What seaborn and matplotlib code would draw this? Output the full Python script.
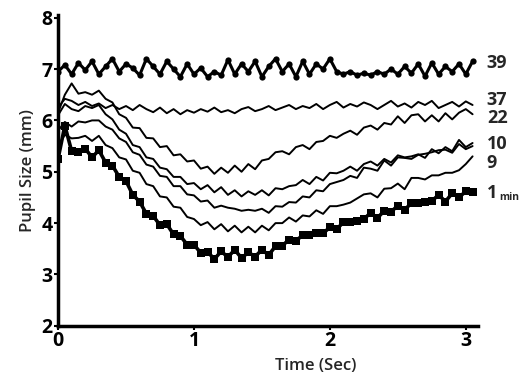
"""
Pupil size traces over time, one line per recording time.
"""

import matplotlib
matplotlib.use("Agg")
import matplotlib.pyplot as plt
import seaborn as sns

time_sec = [
    0.00, 0.05, 0.10, 0.15, 0.20, 0.25, 0.30, 0.35, 0.40, 0.45,
    0.50, 0.55, 0.60, 0.65, 0.70, 0.75, 0.80, 0.85, 0.90, 0.95,
    1.00, 1.05, 1.10, 1.15, 1.20, 1.25, 1.30, 1.35, 1.40, 1.45,
    1.50, 1.55, 1.60, 1.65, 1.70, 1.75, 1.80, 1.85, 1.90, 1.95,
    2.00, 2.05, 2.10, 2.15, 2.20, 2.25, 2.30, 2.35, 2.40, 2.45,
    2.50, 2.55, 2.60, 2.65, 2.70, 2.75, 2.80, 2.85, 2.90, 2.95,
    3.00, 3.05,
]

pupil_39 = [
    6.95, 7.08, 6.90, 7.12, 6.98, 7.15, 6.90, 7.05, 7.20, 6.95,
    7.10, 7.02, 6.88, 7.20, 7.05, 6.90, 7.15, 7.00, 6.85, 7.10,
    6.90, 7.02, 6.85, 6.95, 6.88, 7.18, 6.90, 7.10, 6.95, 7.15,
    6.85, 7.05, 7.20, 6.95, 7.10, 6.85, 7.15, 6.90, 7.10, 7.00,
    7.20, 6.95, 6.90, 6.95, 6.88, 6.92, 6.88, 6.95, 6.90, 7.00,
    6.90, 7.05, 6.92, 7.10, 6.86, 7.12, 6.90, 7.05, 6.95, 7.10,
    6.90, 7.15,
]
pupil_37 = [
    6.25, 6.42, 6.38, 6.30, 6.36, 6.28, 6.33, 6.24, 6.30, 6.22,
    6.28, 6.20, 6.30, 6.22, 6.16, 6.25, 6.14, 6.22, 6.12, 6.20,
    6.15, 6.22, 6.17, 6.25, 6.16, 6.20, 6.14, 6.22, 6.26, 6.18,
    6.22, 6.28, 6.20, 6.25, 6.30, 6.22, 6.28, 6.24, 6.32, 6.22,
    6.30, 6.36, 6.25, 6.32, 6.27, 6.35, 6.30, 6.22, 6.30, 6.38,
    6.27, 6.33, 6.25, 6.36, 6.30, 6.38, 6.24, 6.30, 6.36, 6.27,
    6.37, 6.30,
]
pupil_22 = [
    6.15, 6.50, 6.72, 6.52, 6.55, 6.50, 6.58, 6.42, 6.35, 6.12,
    6.05, 5.86, 5.85, 5.66, 5.65, 5.48, 5.50, 5.32, 5.34, 5.20,
    5.22, 5.06, 5.10, 4.96, 5.08, 4.98, 5.12, 5.00, 5.15, 5.05,
    5.22, 5.25, 5.38, 5.40, 5.34, 5.48, 5.52, 5.44, 5.58, 5.60,
    5.70, 5.66, 5.74, 5.80, 5.72, 5.86, 5.90, 5.82, 5.95, 5.92,
    6.08, 5.95, 6.10, 6.12, 5.98, 6.10, 5.98, 6.14, 6.02, 6.15,
    6.22, 6.12,
]
pupil_10 = [
    6.10, 6.32, 6.22, 6.18, 6.28, 6.24, 6.30, 6.12, 6.02, 5.82,
    5.74, 5.52, 5.48, 5.28, 5.25, 5.08, 5.05, 4.90, 4.90, 4.76,
    4.78, 4.66, 4.74, 4.60, 4.70, 4.55, 4.64, 4.52, 4.62, 4.55,
    4.64, 4.54, 4.68, 4.66, 4.72, 4.74, 4.84, 4.76, 4.90, 4.83,
    4.98, 4.97, 5.02, 5.10, 5.02, 5.15, 5.20, 5.12, 5.25, 5.18,
    5.32, 5.28, 5.30, 5.34, 5.27, 5.44, 5.36, 5.48, 5.40, 5.62,
    5.48, 5.56,
]
pupil_unlabeled = [
    5.80, 5.97, 5.88, 5.98, 5.96, 6.00, 6.00, 5.88, 5.82, 5.65,
    5.58, 5.38, 5.33, 5.14, 5.10, 4.92, 4.90, 4.72, 4.72, 4.56,
    4.54, 4.42, 4.44, 4.30, 4.34, 4.30, 4.28, 4.24, 4.26, 4.24,
    4.28, 4.20, 4.33, 4.32, 4.41, 4.40, 4.52, 4.50, 4.64, 4.62,
    4.76, 4.80, 4.84, 4.92, 4.88, 5.08, 5.06, 5.02, 5.22, 5.12,
    5.28, 5.27, 5.25, 5.33, 5.35, 5.38, 5.42, 5.43, 5.37, 5.54,
    5.44, 5.50,
]
pupil_9 = [
    5.50, 5.72, 5.65, 5.66, 5.70, 5.60, 5.70, 5.52, 5.46, 5.28,
    5.24, 5.02, 4.98, 4.76, 4.72, 4.52, 4.50, 4.32, 4.30, 4.12,
    4.08, 3.96, 4.02, 3.88, 3.98, 3.84, 3.95, 3.82, 3.93, 3.82,
    3.95, 3.86, 4.00, 4.00, 4.11, 4.03, 4.15, 4.13, 4.25, 4.18,
    4.33, 4.33, 4.36, 4.40, 4.48, 4.56, 4.58, 4.50, 4.67, 4.68,
    4.77, 4.66, 4.88, 4.88, 4.85, 4.93, 4.93, 4.98, 4.98, 5.03,
    5.15, 5.30,
]
pupil_1 = [
    5.25, 5.90, 5.40, 5.38, 5.45, 5.28, 5.42, 5.18, 5.12, 4.90,
    4.82, 4.55, 4.42, 4.18, 4.14, 3.96, 3.98, 3.78, 3.75, 3.58,
    3.58, 3.42, 3.44, 3.30, 3.45, 3.34, 3.48, 3.32, 3.43, 3.35,
    3.48, 3.38, 3.55, 3.56, 3.68, 3.66, 3.76, 3.76, 3.80, 3.80,
    3.92, 3.88, 4.02, 4.02, 4.04, 4.08, 4.20, 4.10, 4.24, 4.22,
    4.34, 4.25, 4.40, 4.40, 4.42, 4.43, 4.55, 4.42, 4.58, 4.50,
    4.62, 4.60,
]

end_labels = ["39", "37", "22", "10", "9", "1"]
label_y = [7.11, 6.39, 6.04, 5.55, 5.17, 4.58]

sns.set_style("ticks")
plt.rcParams["font.family"] = ["Open Sans", "DejaVu Sans"]

fig = plt.figure(figsize=(5.23, 3.78), dpi=100)
ax = fig.add_axes([0.111, 0.138, 0.803, 0.822])

# thin traces
for vals in [pupil_37, pupil_22, pupil_10, pupil_unlabeled, pupil_9]:
    sns.lineplot(x=time_sec, y=vals, ax=ax, color="black", linewidth=1.4)

# thick traces with markers
sns.lineplot(x=time_sec, y=pupil_39, ax=ax, color="black", linewidth=2.2,
             marker="o", markersize=4.5, markeredgewidth=0)
sns.lineplot(x=time_sec, y=pupil_1, ax=ax, color="black", linewidth=2.6,
             marker="s", markersize=6, markeredgewidth=0)

ax.set_xlim(0, 3.09)
ax.set_ylim(2, 8.05)
ax.set_xticks([0, 1, 2, 3])
ax.set_yticks([2, 3, 4, 5, 6, 7, 8])
ax.set_xlabel("Time (Sec)", fontsize=12, fontweight="semibold")
ax.xaxis.set_label_coords(0.614, -0.105)
ax.set_ylabel("Pupil Size (mm)", fontsize=12, fontweight="semibold", labelpad=4)

for s in ["top", "right"]:
    ax.spines[s].set_visible(False)
for s in ["left", "bottom"]:
    ax.spines[s].set_linewidth(2.5)
    ax.spines[s].set_color("black")
ax.tick_params(direction="out", length=3, width=1.5, colors="black",
               labelsize=14, pad=1)
for lab in ax.get_xticklabels() + ax.get_yticklabels():
    lab.set_fontweight("bold")

for txt, yv in zip(end_labels, label_y):
    ax.text(3.155, yv, txt, fontsize=13, fontweight="bold",
            va="center", ha="left", clip_on=False)
ax.annotate("min", xy=(3.155, label_y[-1]), xytext=(9, -3),
            textcoords="offset points", fontsize=7.5, fontweight="bold",
            va="center", ha="left", annotation_clip=False)

fig.savefig("out.png", dpi=100)
